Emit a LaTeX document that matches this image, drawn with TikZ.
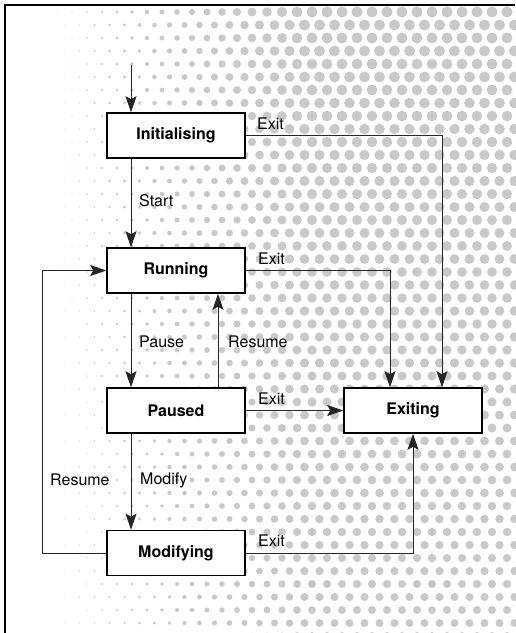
\documentclass[tikz,border=0pt]{standalone}
\usepackage{fontspec}
\setmainfont{TeX Gyre Heros}
\usetikzlibrary{arrows.meta}
\begin{document}
\begin{tikzpicture}[x=1pt,y=-1pt,
  state/.style={draw=black, fill=white, line width=1.6pt, inner sep=0pt,
    minimum width=138pt, minimum height=45pt,
    font=\fontsize{16}{19}\selectfont\bfseries},
  lbl/.style={anchor=west, inner sep=0pt, font=\fontsize{16}{19}\selectfont},
  conn/.style={line width=0.9pt, draw=black!85},
  arr/.style={conn, -{Stealth[length=16pt,width=11pt,inset=3pt]}},
  dot/.style={fill=black!21}]
\useasboundingbox (0,0) rectangle (515,633);
\fill[white] (0,0) rectangle (515,633);

% halftone screen, growing denser to the right
\foreach \i in {0,...,34}{
  \foreach \j in {0,...,48}{
    \pgfmathsetmacro\px{12+15*\i+mod(\j,2)*7.5}
    \pgfmathsetmacro\py{12+13*\j}
    \pgfmathsetmacro\r{max(0.05,5.6*max(0,min(1,(\px-45)/260))*(1-0.3*\py/633))}
    \fill[dot] (\px,\py) circle (\r);
  }
}

% frame
\draw[line width=1.8pt] (5,633) -- (5,5) -- (515,5);

% guide columns for the vertical connectors
\coordinate (colL) at (131,0);
\coordinate (colM) at (218,0);
\coordinate (colA) at (390,0);
\coordinate (colB) at (442,0);
\coordinate (loop) at (42,0);
\coordinate (entry) at (131,65);

% states
\node[state] (ini) at (176,135.5) {Initialising};
\node[state] (run) at (176,270.5) {Running};
\node[state] (pau) at (176,410.5) {Paused};
\node[state] (mod) at (176,553) {Modifying};
\node[state] (ex)  at (413,410.5) {Exiting};

% transitions
\draw[arr] (entry) -- (entry |- ini.north);
\draw[arr] (ini.south -| colL) -- (run.north -| colL);
\draw[arr] (run.south -| colL) -- (pau.north -| colL);
\draw[arr] (pau.north -| colM) -- (run.south -| colM);
\draw[arr] (pau.south -| colL) -- (mod.north -| colL);
\draw[arr] (mod.west) -- (mod.west -| loop) -- (run.west -| loop) -- (run.west);
\draw[arr] (ini.east) -| (ex.north -| colB);
\draw[arr] (run.east) -| (ex.north -| colA);
\draw[arr] (pau.east) -- (ex.west);
\draw[arr] (mod.east) -| (ex.south);

% transition labels
\node[lbl] (lExit1) at (257,124) {Exit};
\node[lbl] (lStart) at (139,201) {Start};
\node[lbl] (lExit2) at (258,259) {Exit};
\node[lbl] (lPause) at (139,342) {Pause};
\node[lbl] (lRes1)  at (228,342) {Resume};
\node[lbl] (lExit3) at (258,399) {Exit};
\node[lbl] (lRes2)  at (50,480) {Resume};
\node[lbl] (lMod)   at (140,480) {Modify};
\node[lbl] (lExit4) at (258,541) {Exit};
\end{tikzpicture}
\end{document}
